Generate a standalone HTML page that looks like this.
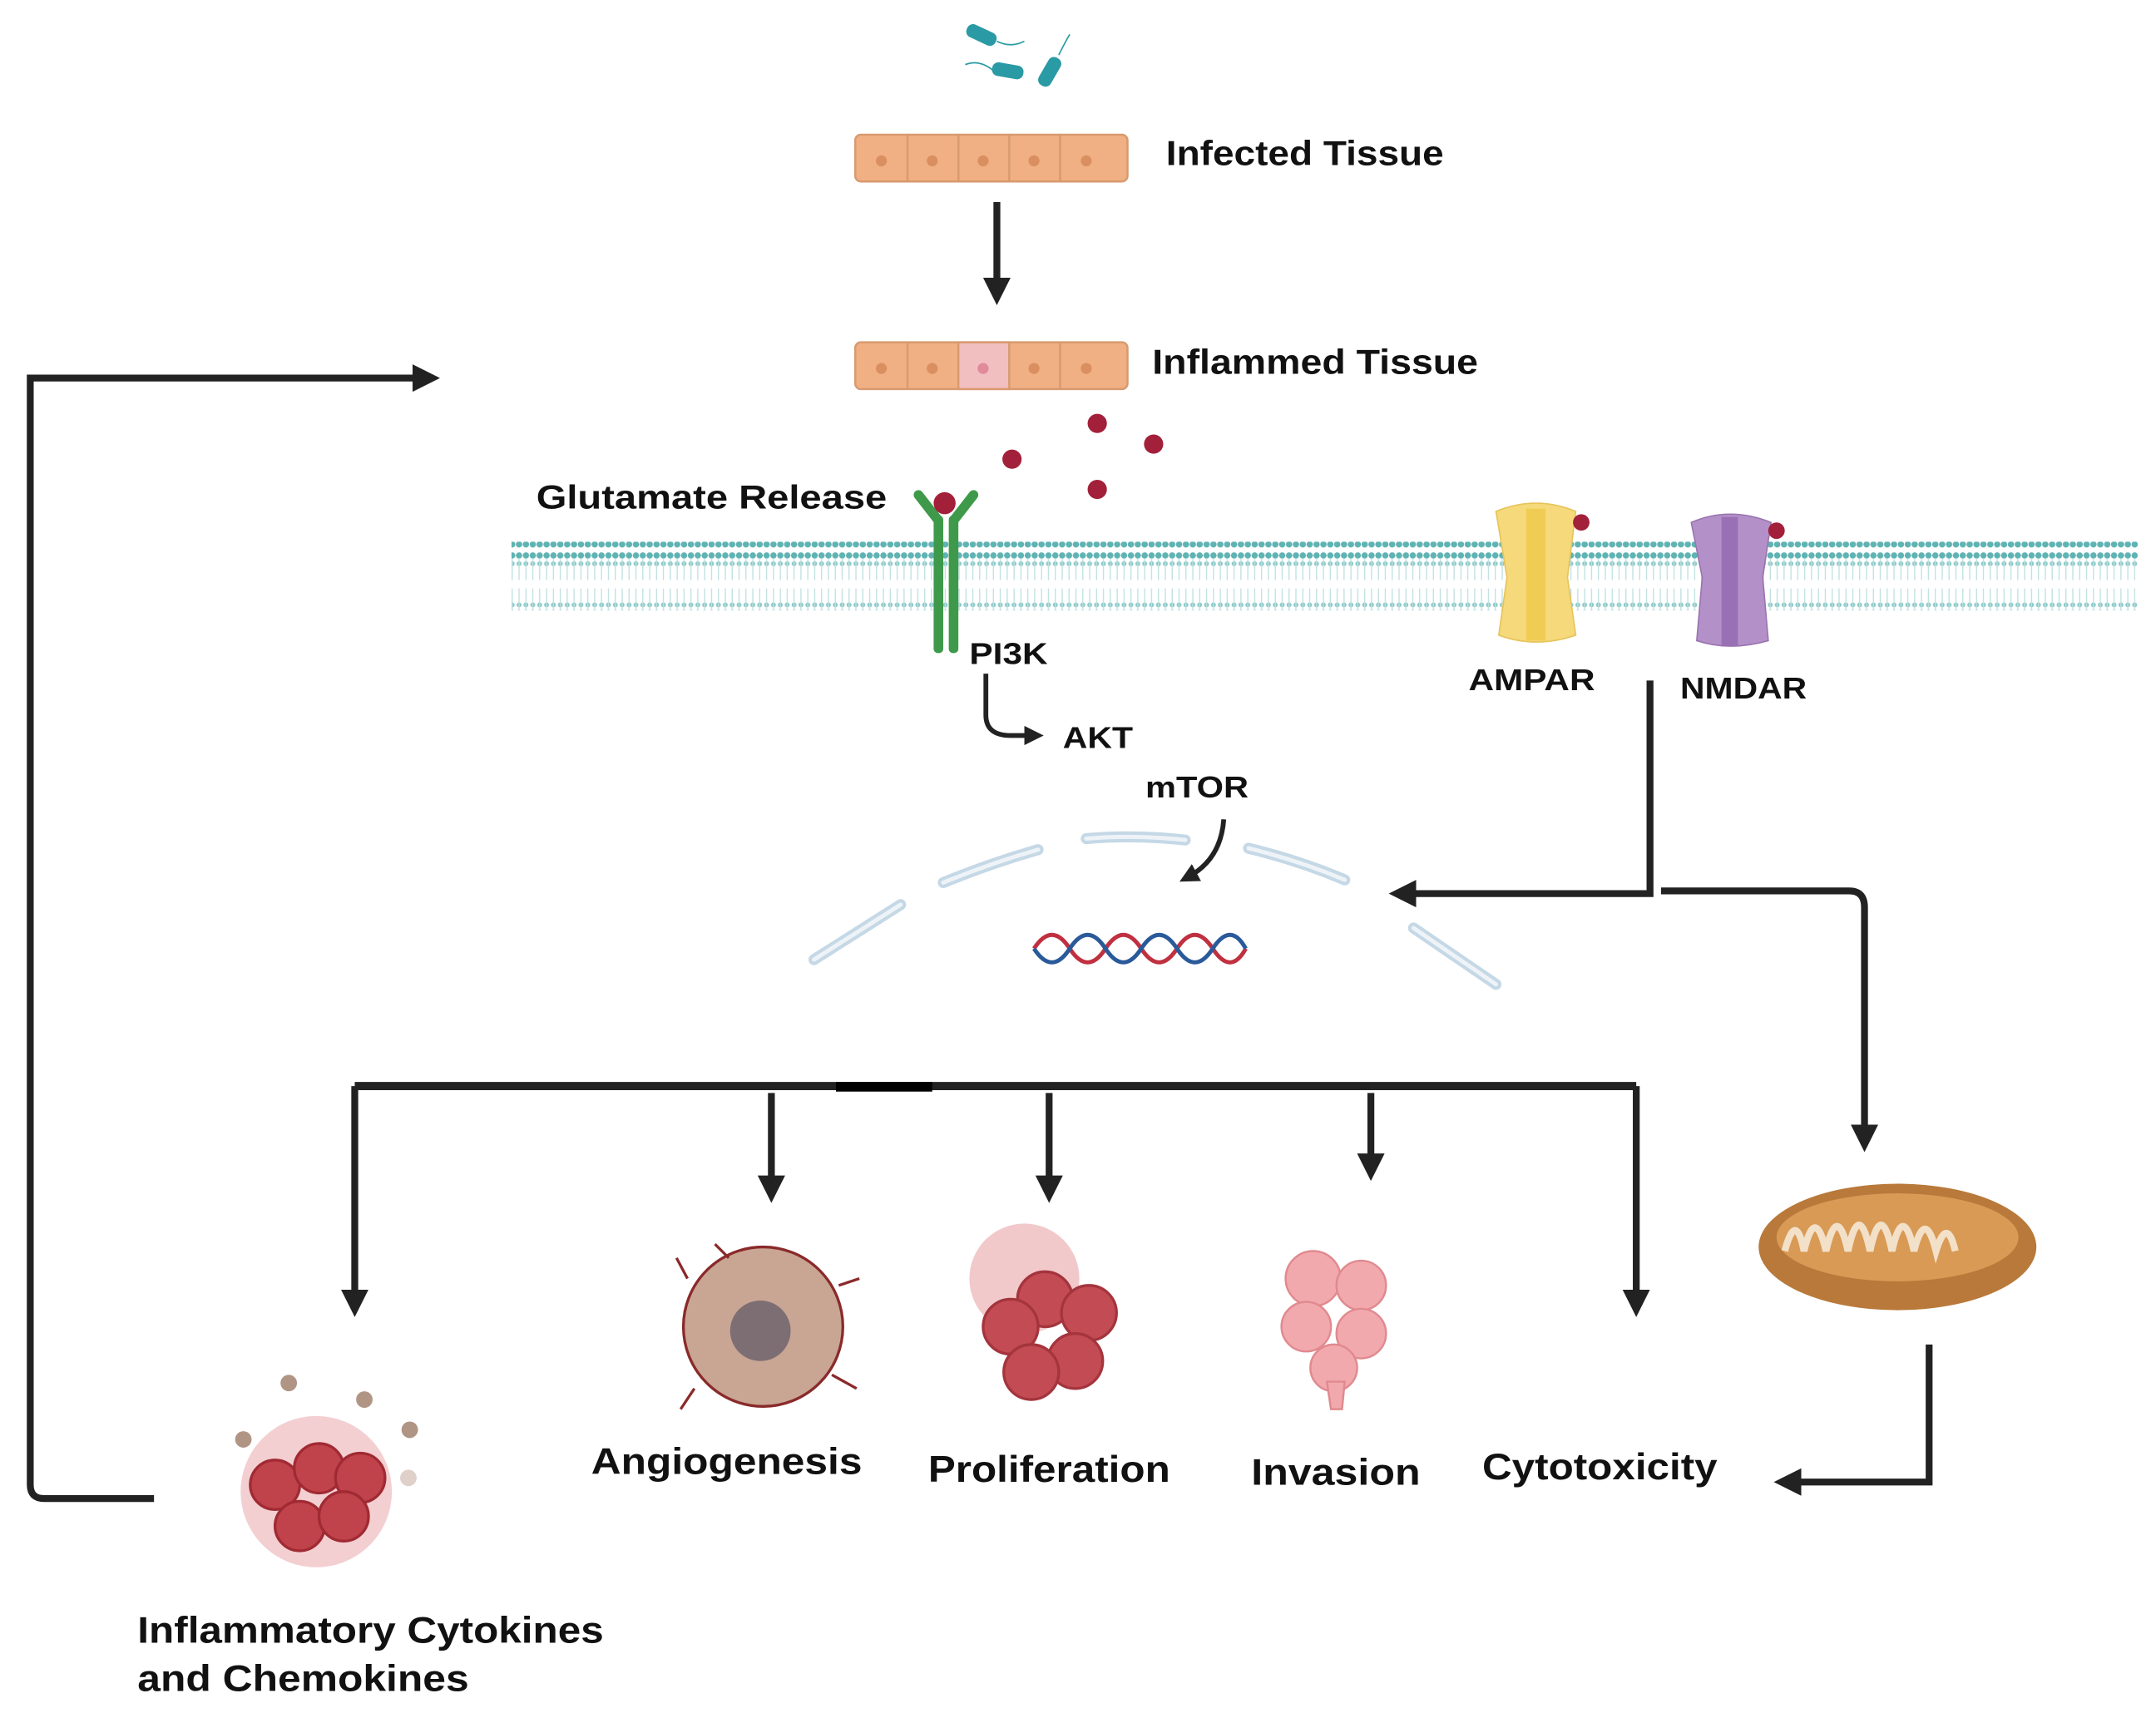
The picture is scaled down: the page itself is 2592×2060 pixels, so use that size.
<!DOCTYPE html>
<html><head><meta charset="utf-8"><style>
html,body{margin:0;padding:0;background:#fff;}
svg{display:block;}
text{font-family:"Liberation Sans",sans-serif;font-weight:bold;fill:#111;}
</style></head><body>
<svg width="2592" height="2060" viewBox="0 0 1568 1246" preserveAspectRatio="none" xmlns="http://www.w3.org/2000/svg">
<defs>
<marker id="ah" markerWidth="4" markerHeight="4" refX="2" refY="2" orient="auto" markerUnits="strokeWidth">
<path d="M0,0 L4,2 L0,4 z" fill="#222"/></marker>
<pattern id="lip" width="5" height="50" patternUnits="userSpaceOnUse">
<circle cx="2.5" cy="4" r="2.3" fill="#5fb3b3"/><circle cx="2.5" cy="46" r="2.3" fill="#5fb3b3"/>
<circle cx="2.5" cy="10" r="1.8" fill="#8ccaca"/><circle cx="2.5" cy="40" r="1.8" fill="#8ccaca"/>
<line x1="2.5" y1="6" x2="2.5" y2="22" stroke="#bfe0e0" stroke-width="0.8"/>
<line x1="2.5" y1="28" x2="2.5" y2="44" stroke="#bfe0e0" stroke-width="0.8"/>
</pattern>
</defs>
<rect width="1568" height="1246" fill="#fff"/>
<g fill="#2a9aa5" stroke="#2a9aa5">
<rect x="703" y="21" width="22" height="9" rx="4" transform="rotate(25 714 25)"/>
<rect x="722" y="47" width="22" height="9" rx="4" transform="rotate(10 733 51)"/>
<rect x="752" y="48" width="22" height="9" rx="4" transform="rotate(-60 763 52)"/>
<path d="M725,30 q10,5 20,0 M722,51 q-10,-8 -20,-4 M770,40 q5,-10 8,-15" fill="none" stroke-width="1"/>
</g>
<g stroke="#d89a6f" stroke-width="1.5">
<rect x="622" y="98" width="198" height="34" rx="4" fill="#f0b083"/>
<rect x="622" y="249" width="198" height="34" rx="4" fill="#f0b083"/>
<rect x="697" y="249" width="37" height="34" fill="#f2bfc0"/>
<path d="M660,98v34M697,98v34M734,98v34M771,98v34M660,249v34M771,249v34" fill="none"/>
</g>
<g fill="#d98f60"><circle cx="641" cy="117" r="4"/><circle cx="678" cy="117" r="4"/><circle cx="715" cy="117" r="4"/><circle cx="752" cy="117" r="4"/><circle cx="790" cy="117" r="4"/>
<circle cx="641" cy="268" r="4"/><circle cx="678" cy="268" r="4"/><circle cx="715" cy="268" r="4" fill="#e08a9a"/><circle cx="752" cy="268" r="4"/><circle cx="790" cy="268" r="4"/></g>
<text x="848" y="120" font-size="25" textLength="202" lengthAdjust="spacingAndGlyphs">Infected Tissue</text>
<text x="838" y="272" font-size="25" textLength="237" lengthAdjust="spacingAndGlyphs">Inflammed Tissue</text>
<line x1="725" y1="147" x2="725" y2="212" stroke="#222" stroke-width="5" marker-end="url(#ah)"/>
<path d="M112,1090 H32 Q22,1090 22,1080 V275 H310" fill="none" stroke="#222" stroke-width="5" marker-end="url(#ah)"/>
<g fill="#a3203a"><circle cx="736" cy="334" r="7"/><circle cx="798" cy="308" r="7"/><circle cx="839" cy="323" r="7"/><circle cx="798" cy="356" r="7"/></g>
<text x="390" y="370" font-size="24" textLength="255" lengthAdjust="spacingAndGlyphs">Glutamate Release</text>
<rect x="372" y="394" width="1183" height="50" fill="url(#lip)"/>
<g fill="#3e9a4a"><rect x="679" y="375" width="7" height="100" rx="3"/><rect x="690" y="375" width="7" height="100" rx="3"/>
<path d="M682,378 L668,360" stroke="#3e9a4a" stroke-width="7" stroke-linecap="round"/><path d="M694,378 L708,360" stroke="#3e9a4a" stroke-width="7" stroke-linecap="round"/></g>
<circle cx="687" cy="366" r="8" fill="#a3203a"/>
<text x="705" y="483" font-size="22" textLength="57" lengthAdjust="spacingAndGlyphs">PI3K</text>
<path d="M717,490 V520 Q717,535 735,535 H752" fill="none" stroke="#222" stroke-width="3.5" marker-end="url(#ah)"/>
<text x="773" y="544" font-size="22" textLength="51" lengthAdjust="spacingAndGlyphs">AKT</text>
<text x="833" y="580" font-size="22" textLength="75" lengthAdjust="spacingAndGlyphs">mTOR</text>
<path d="M890,596 Q888,625 864,638" fill="none" stroke="#222" stroke-width="3.5" marker-end="url(#ah)"/>
<path d="M1088,372 Q1117,360 1146,372 L1140,420 L1146,462 Q1117,472 1090,462 L1096,420 Z" fill="#f5d97a" stroke="#e6c45a"/>
<rect x="1110" y="370" width="14" height="96" fill="#f0cc55"/>
<circle cx="1150" cy="380" r="6" fill="#a3203a"/>
<path d="M1230,380 Q1258,368 1288,380 L1282,420 L1286,466 Q1258,474 1234,466 L1238,420 Z" fill="#b490c8" stroke="#9a75b0"/>
<rect x="1252" y="376" width="12" height="94" fill="#9a70b5"/>
<circle cx="1292" cy="386" r="6" fill="#a3203a"/>
<text x="1068" y="502" font-size="22" textLength="92" lengthAdjust="spacingAndGlyphs">AMPAR</text>
<text x="1222" y="508" font-size="22" textLength="92" lengthAdjust="spacingAndGlyphs">NMDAR</text>
<path d="M1200,495 V650 H1020" fill="none" stroke="#222" stroke-width="5" marker-end="url(#ah)"/>
<path d="M1208,648 H1345 Q1356,648 1356,660 V828" fill="none" stroke="#222" stroke-width="5" marker-end="url(#ah)"/>
<g fill="none" stroke="#c5d8e6" stroke-width="8" stroke-linecap="round">
<path d="M592,698 L655,658"/><path d="M686,642 Q720,628 755,618"/><path d="M790,610 Q825,607 862,611"/>
<path d="M908,617 Q945,626 978,640"/><path d="M1028,675 L1088,716"/></g>
<g fill="none" stroke="#fff" stroke-width="3" stroke-linecap="round" opacity="0.7">
<path d="M592,698 L655,658"/><path d="M686,642 Q720,628 755,618"/><path d="M790,610 Q825,607 862,611"/>
<path d="M908,617 Q945,626 978,640"/><path d="M1028,675 L1088,716"/></g>
<path d="M752,690 q13,-20 26,0 t26,0 t26,0 t26,0 t26,0 t24,0" fill="none" stroke="#c03040" stroke-width="3"/>
<path d="M752,690 q13,20 26,0 t26,0 t26,0 t26,0 t26,0 t24,0" fill="none" stroke="#2a5a9a" stroke-width="3"/>
<path d="M258,790 H1190" fill="none" stroke="#222" stroke-width="6"/>
<rect x="608" y="787" width="70" height="7" fill="#000"/>
<g fill="none" stroke="#222" stroke-width="5">
<path d="M258,790 V948" marker-end="url(#ah)"/><path d="M561,795 V865" marker-end="url(#ah)"/>
<path d="M763,795 V865" marker-end="url(#ah)"/><path d="M997,795 V849" marker-end="url(#ah)"/>
<path d="M1190,790 V948" marker-end="url(#ah)"/>
<path d="M1403,978 V1078 H1300" marker-end="url(#ah)"/></g>
<ellipse cx="1380" cy="907" rx="101" ry="46" fill="#b8793a"/>
<ellipse cx="1380" cy="900" rx="88" ry="32" fill="#d89a55"/>
<path d="M1298,910 q8,-30 14,0 q8,-34 16,0 q8,-36 16,0 q8,-38 16,0 q8,-38 16,0 q8,-36 16,0 q8,-32 16,0 q8,-26 14,0" fill="none" stroke="#f3e0c8" stroke-width="5"/>
<circle cx="555" cy="965" r="58" fill="#c9a594" stroke="#8a2a2a" stroke-width="2"/>
<circle cx="553" cy="968" r="22" fill="#7c6e72"/>
<path d="M500,930 l-8,-15 M610,935 l15,-5 M605,1000 l18,10 M505,1010 l-10,15 M530,915 l-10,-10" stroke="#8a2a2a" stroke-width="2"/>
<g fill="#c0424a" stroke="#a02a33" stroke-width="2" opacity="0.95">
<circle cx="745" cy="930" r="40" fill="#e8a0a4" stroke="none" opacity="0.6"/>
<circle cx="760" cy="945" r="20"/><circle cx="792" cy="955" r="20"/><circle cx="735" cy="965" r="20"/>
<circle cx="782" cy="990" r="20"/><circle cx="750" cy="998" r="20"/></g>
<g fill="#f2a9ad" stroke="#e08a90" stroke-width="1.5">
<circle cx="955" cy="930" r="20"/><circle cx="990" cy="935" r="18"/><circle cx="950" cy="965" r="18"/>
<circle cx="990" cy="970" r="18"/><circle cx="970" cy="995" r="17"/><path d="M965,1005 L978,1005 L976,1025 L968,1025 Z"/></g>
<g fill="#c0424a" stroke="#a02a33" stroke-width="2">
<circle cx="230" cy="1085" r="55" fill="#e8a0a4" stroke="none" opacity="0.5"/>
<circle cx="200" cy="1080" r="18"/><circle cx="232" cy="1068" r="18"/><circle cx="262" cy="1075" r="18"/>
<circle cx="218" cy="1110" r="18"/><circle cx="250" cy="1103" r="18"/></g>
<g fill="#b09585"><circle cx="210" cy="1006" r="6"/><circle cx="265" cy="1018" r="6"/><circle cx="177" cy="1047" r="6"/><circle cx="298" cy="1040" r="6"/><circle cx="297" cy="1075" r="6" fill="#e0d0ca"/></g>
<text x="430" y="1072" font-size="27" textLength="197" lengthAdjust="spacingAndGlyphs">Angiogenesis</text>
<text x="675" y="1078" font-size="27" textLength="176" lengthAdjust="spacingAndGlyphs">Proliferation</text>
<text x="910" y="1080" font-size="27" textLength="123" lengthAdjust="spacingAndGlyphs">Invasion</text>
<text x="1078" y="1076" font-size="27" textLength="171" lengthAdjust="spacingAndGlyphs">Cytotoxicity</text>
<text x="100" y="1195" font-size="27" textLength="339" lengthAdjust="spacingAndGlyphs">Inflammatory Cytokines</text>
<text x="100" y="1230" font-size="27" textLength="241" lengthAdjust="spacingAndGlyphs">and Chemokines</text>
</svg>
</body></html>
